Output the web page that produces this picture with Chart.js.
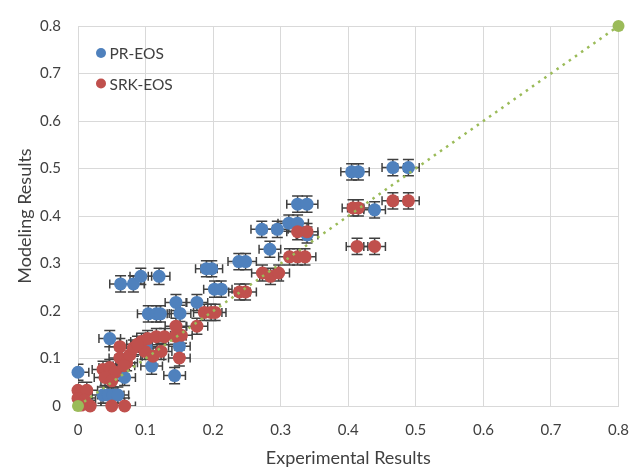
<!DOCTYPE html>
<html>
<head>
<meta charset="utf-8">
<script src="https://cdn.jsdelivr.net/npm/chart.js@4.4.1/dist/chart.umd.min.js"></script>
<style>
  html, body { margin: 0; padding: 0; background: #fff; }
  #wrap { width: 644px; height: 469px; position: relative; }
</style>
</head>
<body>
<div id="wrap"><canvas id="chart"></canvas></div>
<script>
// PR-EOS series (experimental, modeled)
const prX = [0.000, 0.047, 0.063, 0.082, 0.093, 0.120, 0.190, 0.198, 0.202, 0.212,
  0.145, 0.176, 0.104, 0.116, 0.122, 0.151, 0.150, 0.101, 0.109, 0.143,
  0.069, 0.037, 0.045, 0.052, 0.059, 0.238, 0.248, 0.272, 0.295, 0.284,
  0.312, 0.325, 0.325, 0.339, 0.339, 0.405, 0.415, 0.466, 0.489, 0.439]
const prY = [0.071, 0.142, 0.257, 0.257, 0.273, 0.273, 0.289, 0.289, 0.246, 0.246,
  0.218, 0.218, 0.194, 0.194, 0.194, 0.195, 0.126, 0.125, 0.084, 0.064,
  0.060, 0.023, 0.023, 0.023, 0.023, 0.304, 0.304, 0.372, 0.372, 0.330,
  0.385, 0.385, 0.425, 0.425, 0.360, 0.493, 0.493, 0.502, 0.502, 0.413]

// SRK-EOS series
const srkX = [0.000, 0.013, 0.000, 0.010, 0.018, 0.005, 0.050, 0.069, 0.037, 0.047,
  0.055, 0.040, 0.050, 0.062, 0.072, 0.077, 0.082, 0.094, 0.103, 0.116,
  0.062, 0.099, 0.111, 0.123, 0.144, 0.153, 0.145, 0.176, 0.150, 0.187,
  0.197, 0.203, 0.239, 0.248, 0.273, 0.285, 0.297, 0.313, 0.325, 0.336,
  0.325, 0.339, 0.407, 0.415, 0.466, 0.489, 0.413, 0.439, 0.128, 0.088, 0.068]
const srkY = [0.033, 0.033, 0.016, 0.012, 0.000, 0.002, 0.000, 0.000, 0.077, 0.081,
  0.071, 0.060, 0.053, 0.101, 0.091, 0.108, 0.122, 0.136, 0.142, 0.146,
  0.125, 0.115, 0.105, 0.115, 0.147, 0.149, 0.168, 0.168, 0.101, 0.197,
  0.197, 0.197, 0.240, 0.240, 0.280, 0.273, 0.280, 0.314, 0.314, 0.314,
  0.367, 0.367, 0.417, 0.417, 0.432, 0.432, 0.336, 0.336, 0.146, 0.130, 0.085]

// y = x reference line
const lineX = [0, 0.8]
const lineY = [0, 0.8]

const errX = 0.016
const errY = 0.017

const FONT = "Lato, 'Open Sans', sans-serif"
const TEXT = "#404040"

const toPoints = (xs, ys) => xs.map((x, i) => ({ x, y: ys[i] }))

const errorBars = {
  id: "errorBars",
  beforeDatasetsDraw(chart) {
    const { ctx, chartArea, scales: { x, y } } = chart
    const cap = 4.5
    ctx.save()
    ctx.beginPath()
    ctx.rect(chartArea.left, chartArea.top, chartArea.right - chartArea.left, chartArea.bottom - chartArea.top)
    ctx.clip()
    ctx.strokeStyle = "#404040"
    ctx.lineWidth = 1.5
    chart.data.datasets.forEach((ds) => {
      if (!ds.errorBars) return
      ds.data.forEach((p) => {
        const px = x.getPixelForValue(p.x)
        const py = y.getPixelForValue(p.y)
        const x0 = x.getPixelForValue(p.x - errX)
        const x1 = x.getPixelForValue(p.x + errX)
        const y0 = y.getPixelForValue(p.y - errY)
        const y1 = y.getPixelForValue(p.y + errY)
        ctx.beginPath()
        ctx.moveTo(x0, py); ctx.lineTo(x1, py)
        ctx.moveTo(x0, py - cap); ctx.lineTo(x0, py + cap)
        ctx.moveTo(x1, py - cap); ctx.lineTo(x1, py + cap)
        ctx.moveTo(px, y0); ctx.lineTo(px, y1)
        ctx.moveTo(px - cap - 1, y0); ctx.lineTo(px + cap + 1, y0)
        ctx.moveTo(px - cap - 1, y1); ctx.lineTo(px + cap + 1, y1)
        ctx.stroke()
      })
    })
    ctx.restore()
  }
}

// legend drawn inside the plot, upper left
const insideLegend = {
  id: "insideLegend",
  afterDraw(chart) {
    const { ctx, chartArea } = chart
    ctx.save()
    ctx.font = "15.5px " + FONT
    ctx.textBaseline = "middle"
    const items = chart.data.datasets.filter((ds) => ds.inLegend).sort((a, b) => b.order - a.order)
    items.forEach((ds, row) => {
      const cx = chartArea.left + 23
      const cy = chartArea.top + 27 + row * 30.5
      ctx.beginPath()
      ctx.arc(cx, cy, 5, 0, Math.PI * 2)
      ctx.fillStyle = ds.backgroundColor
      ctx.fill()
      ctx.fillStyle = TEXT
      ctx.fillText(ds.label, cx + 8.5, cy + 1)
    })
    ctx.restore()
  }
}

const tickLabel = (v) => String(+Number(v).toFixed(1))

new Chart(document.getElementById("chart"), {
  type: "scatter",
  data: {
    datasets: [
      {
        label: "y = x",
        data: toPoints(lineX, lineY),
        showLine: true,
        borderColor: "#9BBB59",
        backgroundColor: "#9BBB59",
        borderWidth: 2.5,
        borderDash: [2.5, 5],
        pointRadius: 6,
        pointBorderWidth: 0,
        clip: false,
        order: 0
      },
      {
        label: "SRK-EOS",
        data: toPoints(srkX, srkY),
        backgroundColor: "#C0504D",
        borderColor: "#C0504D",
        pointRadius: 6.5,
        pointBorderWidth: 0,
        errorBars: true,
        inLegend: true,
        clip: false,
        order: 1
      },
      {
        label: "PR-EOS",
        data: toPoints(prX, prY),
        backgroundColor: "#4F81BD",
        borderColor: "#4F81BD",
        pointRadius: 6.5,
        pointBorderWidth: 0,
        errorBars: true,
        inLegend: true,
        clip: false,
        order: 2
      }
    ]
  },
  options: {
    responsive: true,
    maintainAspectRatio: false,
    animation: false,
    layout: { padding: { top: 17, right: 23, left: 0, bottom: 0 } },
    plugins: {
      legend: { display: false },
      tooltip: { enabled: false }
    },
    scales: {
      x: {
        min: 0,
        max: 0.8,
        afterFit: (scale) => { scale.height = 63 },
        ticks: { stepSize: 0.1, color: TEXT, font: { family: FONT, size: 15 }, padding: 15, callback: tickLabel },
        grid: { color: "#d9d9d9", drawTicks: false },
        border: { color: "#d9d9d9" },
        title: { display: true, text: "Experimental Results", color: TEXT, font: { family: FONT, size: 18 }, padding: { top: 0, bottom: 0 } }
      },
      y: {
        min: 0,
        max: 0.8,
        afterFit: (scale) => { scale.width = 78 },
        ticks: { stepSize: 0.1, color: TEXT, font: { family: FONT, size: 15 }, padding: 17, callback: tickLabel },
        grid: { color: "#d9d9d9", drawTicks: false },
        border: { color: "#d9d9d9" },
        title: { display: true, text: "Modeling Results", color: TEXT, font: { family: FONT, size: 18 }, padding: { top: 14, bottom: 0 } }
      }
    }
  },
  plugins: [errorBars, insideLegend]
})
</script>
</body>
</html>
